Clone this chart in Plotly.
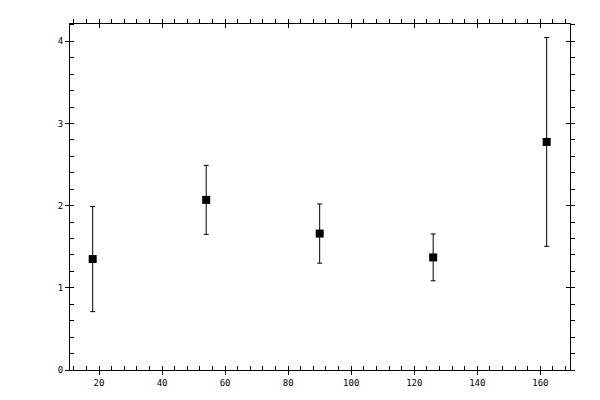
import plotly.graph_objects as go

x_vals = [18, 54, 90, 126, 162]
y_vals = [1.35, 2.07, 1.66, 1.37, 2.775]
err_vals = [0.64, 0.42, 0.36, 0.285, 1.27]

x_range = [10.8, 169.4]
y_range = [0, 4.21]

fig = go.Figure()
fig.add_trace(go.Scatter(
    x=x_vals, y=y_vals, mode="markers",
    marker=dict(symbol="square", size=8, color="black"),
    error_y=dict(type="data", array=err_vals, visible=True,
                 color="black", thickness=1, width=2.5),
    showlegend=False,
))
# invisible companions so the mirrored axes get drawn
for xa, ya in [("x2", "y2"), ("x3", "y3"), ("x4", "y4")]:
    fig.add_trace(go.Scatter(
        x=x_vals, y=y_vals, mode="markers", xaxis=xa, yaxis=ya,
        marker=dict(opacity=0, size=1), hoverinfo="skip", showlegend=False,
    ))

font = dict(family="DejaVu Sans Mono", size=9, color="black")
common = dict(tickcolor="black", tickwidth=1, ticklen=4, showgrid=False,
              zeroline=False, tickfont=font)

fig.update_layout(
    width=600, height=400,
    margin=dict(l=62, r=38, t=12, b=38),
    plot_bgcolor="white", paper_bgcolor="white",
    xaxis=dict(range=x_range, dtick=20, tick0=0, ticks="outside",
               showline=True, linecolor="black", linewidth=1,
               minor=dict(ticks="inside", dtick=4, tick0=0, ticklen=4,
                          tickcolor="black", tickwidth=1),
               **common),
    xaxis2=dict(range=x_range, dtick=20, tick0=0, ticks="outside",
                overlaying="x", side="top", anchor="y",
                showline=True, linecolor="black", linewidth=1,
                showticklabels=False,
                minor=dict(ticks="outside", dtick=4, tick0=0, ticklen=4,
                           tickcolor="black", tickwidth=1),
                **common),
    xaxis3=dict(range=x_range, dtick=20, tick0=0, ticks="inside",
                overlaying="x", side="bottom", anchor="y",
                showticklabels=False, showline=False, **common),
    xaxis4=dict(range=x_range, dtick=20, tick0=0, ticks="inside",
                overlaying="x", side="top", anchor="y",
                showticklabels=False, showline=False, **common),
    yaxis=dict(range=y_range, dtick=1, tick0=0, ticks="outside",
               showline=True, linecolor="black", linewidth=1,
               minor=dict(ticks="inside", dtick=0.2, tick0=0, ticklen=4,
                          tickcolor="black", tickwidth=1),
               **common),
    yaxis2=dict(range=y_range, dtick=1, tick0=0, ticks="outside",
                overlaying="y", side="right", anchor="x",
                showline=True, linecolor="black", linewidth=1,
                showticklabels=False,
                minor=dict(ticks="outside", dtick=0.2, tick0=0, ticklen=4,
                           tickcolor="black", tickwidth=1),
                **common),
    yaxis3=dict(range=y_range, dtick=1, tick0=0, ticks="inside",
                overlaying="y", side="left", anchor="x",
                showticklabels=False, showline=False, **common),
    yaxis4=dict(range=y_range, dtick=1, tick0=0, ticks="inside",
                overlaying="y", side="right", anchor="x",
                showticklabels=False, showline=False, **common),
)

fig.write_html("out.html")
